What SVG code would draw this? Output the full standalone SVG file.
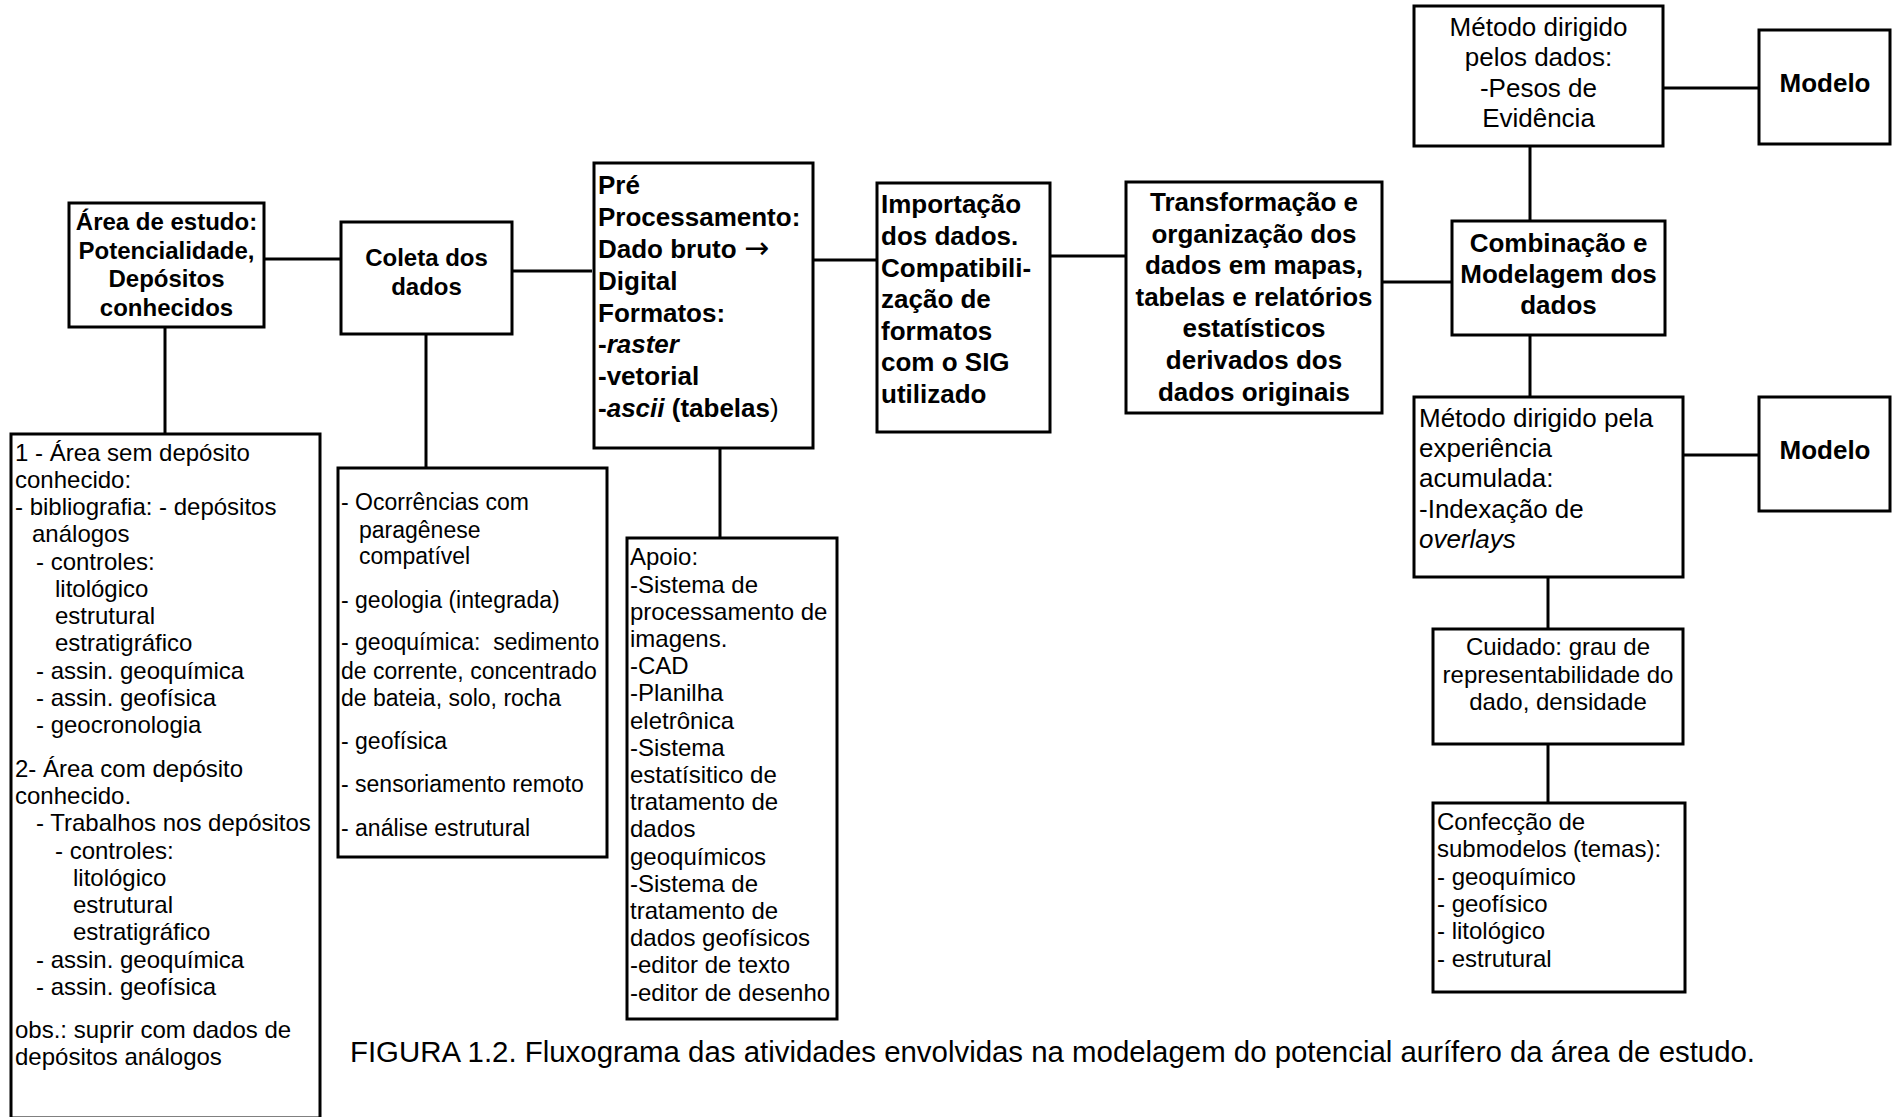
<svg xmlns="http://www.w3.org/2000/svg" width="1892" height="1117" viewBox="0 0 1892 1117">
<style>
.box{fill:#fff;stroke:#000;stroke-width:3}
.ln{stroke:#000;stroke-width:3;fill:none}
text{font-family:"Liberation Sans",Arial,sans-serif;fill:#000}
.b24{font-weight:bold;font-size:24px}
.b26{font-weight:bold;font-size:26px}
.r24{font-size:24px}
.r23{font-size:23px}
.r26{font-size:26px}
.c{text-anchor:middle}
.cap{font-size:29.4px}
.arr{font-family:"DejaVu Sans",sans-serif;font-weight:normal;font-size:30px}
</style>
<rect width="1892" height="1117" fill="#fff"/>
<g id="connectors">
<line class="ln" x1="264" y1="259" x2="341" y2="259"/>
<line class="ln" x1="165" y1="327" x2="165" y2="434"/>
<line class="ln" x1="512" y1="271" x2="592" y2="271"/>
<line class="ln" x1="426" y1="334" x2="426" y2="476"/>
<line class="ln" x1="812" y1="260" x2="877" y2="260"/>
<line class="ln" x1="720" y1="449" x2="720" y2="538"/>
<line class="ln" x1="1050" y1="256" x2="1126" y2="256"/>
<line class="ln" x1="1382" y1="282" x2="1452" y2="282"/>
<line class="ln" x1="1530" y1="146" x2="1530" y2="221"/>
<line class="ln" x1="1663" y1="88" x2="1759" y2="88"/>
<line class="ln" x1="1530" y1="335" x2="1530" y2="397"/>
<line class="ln" x1="1683" y1="455" x2="1759" y2="455"/>
<line class="ln" x1="1548" y1="577" x2="1548" y2="629"/>
<line class="ln" x1="1548" y1="744" x2="1548" y2="803"/>
</g>
<g id="area">
<rect class="box" x="69" y="203" width="195" height="124"/>
<text class="b24 c"><tspan x="166.5" y="230">Área de estudo:</tspan><tspan x="166.5" y="258.5">Potencialidade,</tspan><tspan x="166.5" y="287">Depósitos</tspan><tspan x="166.5" y="315.5">conhecidos</tspan></text>
</g>
<g id="coleta">
<rect class="box" x="341" y="222" width="171" height="112"/>
<text class="b24 c"><tspan x="426.5" y="266">Coleta dos</tspan><tspan x="426.5" y="295">dados</tspan></text>
</g>
<g id="pre">
<rect class="box" x="594" y="163" width="219" height="285"/>
<text class="b26"><tspan x="598" y="194">Pré</tspan><tspan x="598" y="226">Processamento:</tspan><tspan x="598" y="258">Dado bruto <tspan class="arr">→</tspan></tspan><tspan x="598" y="290">Digital</tspan><tspan x="598" y="322">Formatos:</tspan><tspan x="598" y="353">-<tspan font-style="italic">raster</tspan></tspan><tspan x="598" y="385">-vetorial</tspan><tspan x="598" y="417">-<tspan font-style="italic">ascii</tspan> (tabelas<tspan font-weight="normal">)</tspan></tspan></text>
</g>
<g id="importacao">
<rect class="box" x="877" y="183" width="173" height="249"/>
<text class="b26"><tspan x="881" y="213">Importação</tspan><tspan x="881" y="245">dos dados.</tspan><tspan x="881" y="277">Compatibili-</tspan><tspan x="881" y="308">zação de</tspan><tspan x="881" y="340">formatos</tspan><tspan x="881" y="371">com o SIG</tspan><tspan x="881" y="403">utilizado</tspan></text>
</g>
<g id="transformacao">
<rect class="box" x="1126" y="182" width="256" height="231"/>
<text class="b26 c"><tspan x="1254" y="211">Transformação e</tspan><tspan x="1254" y="242.6">organização dos</tspan><tspan x="1254" y="274.2">dados em mapas,</tspan><tspan x="1254" y="305.8">tabelas e relatórios</tspan><tspan x="1254" y="337.4">estatísticos</tspan><tspan x="1254" y="369">derivados dos</tspan><tspan x="1254" y="400.6">dados originais</tspan></text>
</g>
<g id="combinacao">
<rect class="box" x="1452" y="221" width="213" height="114"/>
<text class="b26 c"><tspan x="1558.5" y="252">Combinação e</tspan><tspan x="1558.5" y="283">Modelagem dos</tspan><tspan x="1558.5" y="314">dados</tspan></text>
</g>
<g id="metodo-dados">
<rect class="box" x="1414" y="6" width="249" height="140"/>
<text class="r26 c"><tspan x="1538.5" y="36">Método dirigido</tspan><tspan x="1538.5" y="66.4">pelos dados:</tspan><tspan x="1538.5" y="96.8">-Pesos de</tspan><tspan x="1538.5" y="127.2">Evidência</tspan></text>
</g>
<g id="modelo1">
<rect class="box" x="1759" y="30" width="131" height="114"/>
<text class="b26 c" x="1825" y="92">Modelo</text>
</g>
<g id="metodo-exp">
<rect class="box" x="1414" y="397" width="269" height="180"/>
<text class="r26"><tspan x="1419" y="427">Método dirigido pela</tspan><tspan x="1419" y="457.2">experiência</tspan><tspan x="1419" y="487.4">acumulada:</tspan><tspan x="1419" y="517.6">-Indexação de</tspan><tspan x="1419" y="547.8" font-style="italic">overlays</tspan></text>
</g>
<g id="modelo2">
<rect class="box" x="1759" y="397" width="131" height="114"/>
<text class="b26 c" x="1825" y="459">Modelo</text>
</g>
<g id="cuidado">
<rect class="box" x="1433" y="629" width="250" height="115"/>
<text class="r24 c"><tspan x="1558" y="655">Cuidado: grau de</tspan><tspan x="1558" y="682.5">representabilidade do</tspan><tspan x="1558" y="710">dado, densidade</tspan></text>
</g>
<g id="confeccao">
<rect class="box" x="1433" y="803" width="252" height="189"/>
<text class="r24"><tspan x="1437" y="830">Confecção de</tspan><tspan x="1437" y="857.3">submodelos (temas):</tspan><tspan x="1437" y="884.6">- geoquímico</tspan><tspan x="1437" y="911.9">- geofísico</tspan><tspan x="1437" y="939.2">- litológico</tspan><tspan x="1437" y="966.5">- estrutural</tspan></text>
</g>
<g id="box-area-detalhe">
<rect class="box" x="11" y="434" width="309" height="684"/>
<text class="r24"><tspan x="15" y="460.5">1 - Área sem depósito</tspan><tspan x="15" y="487.75">conhecido:</tspan><tspan x="15" y="515">- bibliografia: - depósitos</tspan><tspan x="32" y="542.25">análogos</tspan><tspan x="36" y="569.5">- controles:</tspan><tspan x="55" y="596.75">litológico</tspan><tspan x="55" y="624">estrutural</tspan><tspan x="55" y="651.25">estratigráfico</tspan><tspan x="36" y="678.5">- assin. geoquímica</tspan><tspan x="36" y="705.75">- assin. geofísica</tspan><tspan x="36" y="733">- geocronologia</tspan><tspan x="15" y="776.6">2- Área com depósito</tspan><tspan x="15" y="803.9">conhecido.</tspan><tspan x="36" y="831.2">- Trabalhos nos depósitos</tspan><tspan x="55" y="858.5">- controles:</tspan><tspan x="73" y="885.8">litológico</tspan><tspan x="73" y="913.1">estrutural</tspan><tspan x="73" y="940.4">estratigráfico</tspan><tspan x="36" y="967.7">- assin. geoquímica</tspan><tspan x="36" y="995">- assin. geofísica</tspan><tspan x="15" y="1038">obs.: suprir com dados de</tspan><tspan x="15" y="1065.3">depósitos análogos</tspan></text>
</g>
<g id="box-coleta-detalhe">
<rect class="box" x="338" y="468" width="269" height="389"/>
<text class="r23" xml:space="preserve"><tspan x="341" y="510">- Ocorrências com</tspan><tspan x="359" y="537.5">paragênese</tspan><tspan x="359" y="564">compatível</tspan><tspan x="341" y="607.5">- geologia (integrada)</tspan><tspan x="341" y="650">- geoquímica:  sedimento</tspan><tspan x="341" y="679">de corrente, concentrado</tspan><tspan x="341" y="705.5">de bateia, solo, rocha</tspan><tspan x="341" y="749">- geofísica</tspan><tspan x="341" y="792">- sensoriamento remoto</tspan><tspan x="341" y="835.5">- análise estrutural</tspan></text>
</g>
<g id="apoio">
<rect class="box" x="627" y="538" width="210" height="481"/>
<text class="r24"><tspan x="630" y="565.4">Apoio:</tspan><tspan x="630" y="592.6">-Sistema de</tspan><tspan x="630" y="619.8">processamento de</tspan><tspan x="630" y="647">imagens.</tspan><tspan x="630" y="674.2">-CAD</tspan><tspan x="630" y="701.4">-Planilha</tspan><tspan x="630" y="728.6">eletrônica</tspan><tspan x="630" y="755.8">-Sistema</tspan><tspan x="630" y="783">estatísitico de</tspan><tspan x="630" y="810.2">tratamento de</tspan><tspan x="630" y="837.4">dados</tspan><tspan x="630" y="864.6">geoquímicos</tspan><tspan x="630" y="891.8">-Sistema de</tspan><tspan x="630" y="919">tratamento de</tspan><tspan x="630" y="946.2">dados geofísicos</tspan><tspan x="630" y="973.4">-editor de texto</tspan><tspan x="630" y="1000.6">-editor de desenho</tspan></text>
</g>
<text class="cap" x="350" y="1062">FIGURA 1.2. Fluxograma das atividades envolvidas na modelagem do potencial aurífero da área de estudo.</text>
</svg>
